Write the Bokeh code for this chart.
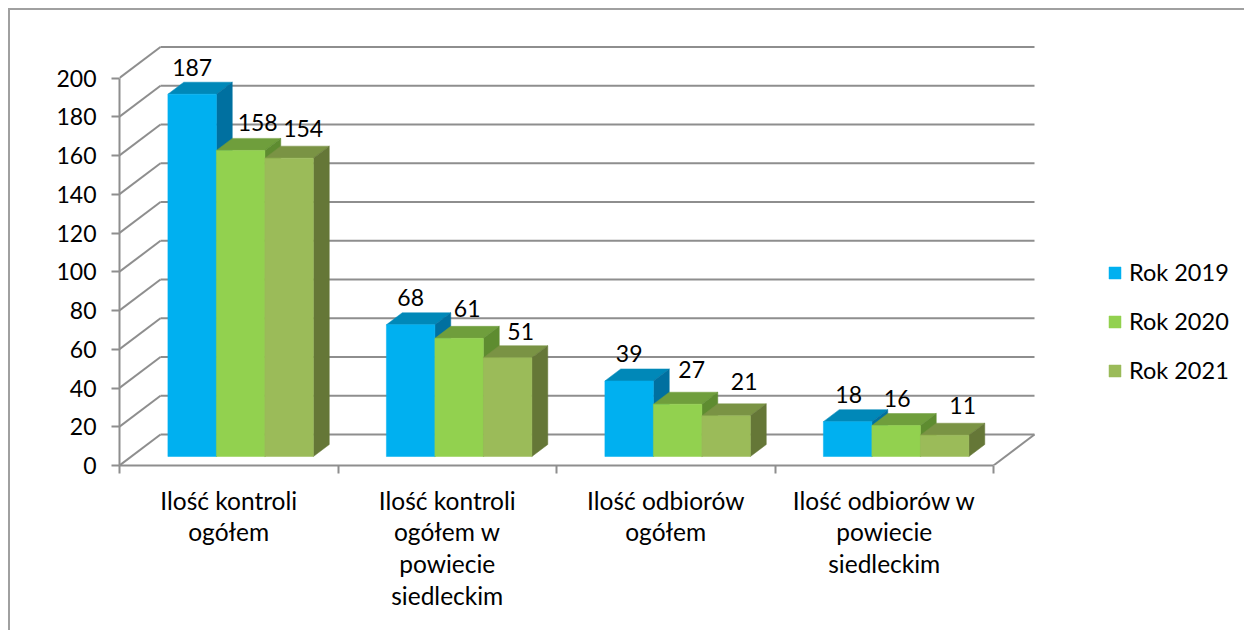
from bokeh.plotting import figure
from bokeh.models import (Range1d, LinearAxis, FixedTicker, Legend, LegendItem)
from bokeh.core.properties import value
from bokeh.embed import file_html
from bokeh.resources import INLINE

categories = ["Ilość kontroli\nogółem",
              "Ilość kontroli\nogółem w\npowiecie\nsiedleckim",
              "Ilość odbiorów\nogółem",
              "Ilość odbiorów w\npowiecie\nsiedleckim"]
rok_2019 = [187, 68, 39, 18]
rok_2020 = [158, 61, 27, 16]
rok_2021 = [154, 51, 21, 11]
series_names = ["Rok 2019", "Rok 2020", "Rok 2021"]
y_ticks = [0, 20, 40, 60, 80, 100, 120, 140, 160, 180, 200]

# styles
FONT = "Lato"
FS = "23px"
FS_CAT = "24.5px"
FS_LEG = "23.5px"
GRID = "#8e8e8e"
front_colors = ["#00B0F0", "#92D14F", "#9BBB59"]
top_colors = ["#0088B8", "#6F9E3C", "#7A9344"]
side_colors = ["#0070A0", "#5E8C30", "#657737"]
label_dx = [[0, 0, 0, 1], [17, 8, 14, 1], [14, 13, 18, 18]]
label_dy = [[-15, -15, -15, -15], [-16, -18, -23, -15], [-18, -14, -22, -18]]

# pixel scales
PX_X = 218.5   # px per category
PX_Y = 1.9375  # px per value unit
W, H = 1244, 630
ML, MB, MT = 119, 165, 20
frame_w = W - ML
frame_h = H - MB - MT

# oblique projection, in data units
DX = 41 / PX_X
WALL_DY = 31 / PX_Y
D0 = 9 / 31         # depth of the front of the bars
D1 = 12 / 31        # depth of a bar
BAR_W = 48.5 / PX_X
GAP = (1 - 3 * BAR_W) / 2

frame_css = (":host::after {content:''; position:absolute; left:8px; top:8px; right:0; bottom:0;"
             " border-left:2px solid #a0a0a0; border-top:2px solid #a0a0a0;"
             " pointer-events:none; z-index:10;}")

p = figure(width=W, height=H, output_backend="svg", toolbar_location=None,
           x_range=Range1d(0, frame_w / PX_X), y_range=Range1d(0, frame_h / PX_Y),
           x_axis_type=None, y_axis_type=None,
           min_border_left=ML, min_border_right=0, min_border_top=MT, min_border_bottom=MB,
           outline_line_color=None, background_fill_color="white", border_fill_color="white",
           stylesheets=[frame_css])
p.grid.visible = False

# axes
yaxis = LinearAxis(ticker=FixedTicker(ticks=y_ticks), bounds=(0, 200),
                   axis_line_color=GRID, axis_line_width=2,
                   major_tick_line_color=GRID, major_tick_line_width=2,
                   major_tick_in=0, major_tick_out=8, minor_tick_line_color=None,
                   major_label_text_font=FONT, major_label_text_font_size=FS,
                   major_label_text_color="black", major_label_standoff=15)
p.add_layout(yaxis, "left")

n = len(categories)
centers = [i + 0.5 for i in range(n)]
xaxis = LinearAxis(ticker=FixedTicker(ticks=centers, minor_ticks=list(range(n + 1))),
                   bounds=(0, n),
                   major_label_overrides=dict(zip(centers, categories)),
                   axis_line_color=GRID, axis_line_width=2,
                   major_tick_line_color=None, major_tick_in=0, major_tick_out=0,
                   minor_tick_line_color=GRID, minor_tick_line_width=2,
                   minor_tick_in=0, minor_tick_out=8,
                   major_label_text_font=FONT, major_label_text_font_size=FS_CAT,
                   major_label_text_color="black", major_label_standoff=12,
                   major_label_text_line_height=1.1)
p.add_layout(xaxis, "below")

# walls and floor
p.segment(x0=[DX] * len(y_ticks), y0=[t + WALL_DY for t in y_ticks],
          x1=[n + DX] * len(y_ticks), y1=[t + WALL_DY for t in y_ticks],
          line_color=GRID, line_width=2)
p.segment(x0=[0] * len(y_ticks), y0=y_ticks,
          x1=[DX] * len(y_ticks), y1=[t + WALL_DY for t in y_ticks],
          line_color=GRID, line_width=2)
p.segment(x0=[n], y0=[0], x1=[n + DX], y1=[WALL_DY], line_color=GRID, line_width=2)

# bars
legend_items = []
for s, vals in enumerate([rok_2019, rok_2020, rok_2021]):
    left = [i + GAP + D0 * DX + s * BAR_W for i in range(n)]
    right = [x + BAR_W for x in left]
    base = D0 * WALL_DY
    tops = [v + base for v in vals]
    ddx, ddy = D1 * DX, D1 * WALL_DY
    # top faces
    p.patches(xs=[[l, l + ddx, r + ddx, r] for l, r in zip(left, right)],
              ys=[[t, t + ddy, t + ddy, t] for t in tops],
              fill_color=top_colors[s], line_color=top_colors[s], line_width=0.5)
    # side faces
    p.patches(xs=[[r, r + ddx, r + ddx, r] for r in right],
              ys=[[base, base + ddy, t + ddy, t] for t in tops],
              fill_color=side_colors[s], line_color=side_colors[s], line_width=0.5)
    # front faces
    q = p.quad(left=left, right=right, bottom=[base] * n, top=tops,
               fill_color=front_colors[s], line_color=front_colors[s], line_width=0.5)
    legend_items.append(LegendItem(label=series_names[s], renderers=[q]))

# data labels
for s, vals in enumerate([rok_2019, rok_2020, rok_2021]):
    xs = [i + GAP + D0 * DX + (s + 0.5) * BAR_W for i in range(n)]
    ys = [v + (D0 + D1) * WALL_DY for v in vals]
    p.text(x=xs, y=ys, text=[str(v) for v in vals], x_offset=label_dx[s], y_offset=label_dy[s],
           text_font=value(FONT), text_font_size=value(FS), text_color="black",
           text_align="center", text_baseline="middle")

legend = Legend(items=legend_items, location=(988, 81), orientation="vertical",
                background_fill_alpha=0, border_line_color=None, padding=0, margin=0,
                glyph_width=15, glyph_height=15, label_height=26, label_standoff=7,
                spacing=21, label_text_font=FONT, label_text_font_size=FS_LEG,
                label_text_color="black")
p.add_layout(legend)

open("out.html", "w").write(file_html(p, INLINE))
